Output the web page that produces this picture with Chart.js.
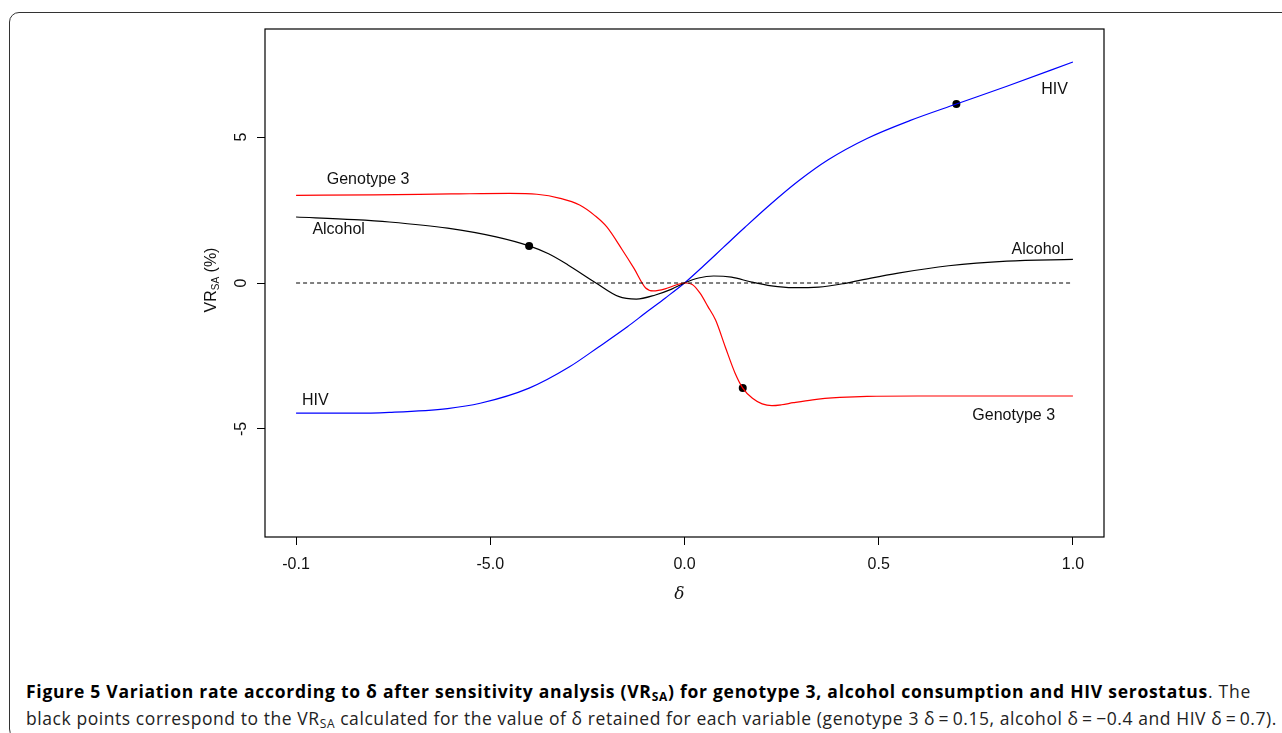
<!DOCTYPE html>
<html>
<head>
<meta charset="utf-8">
<title>Figure 5</title>
<script src="https://cdn.jsdelivr.net/npm/chart.js"></script>
<style>
  body { margin: 0; background: #fff; width: 1282px; height: 733px; overflow: hidden; position: relative; }
  #frame { position: absolute; left: 9px; top: 12px; width: 1300px; height: 725px; border: 1.5px solid #333; border-radius: 10px; }
  #chart { position: absolute; left: 0; top: 0; }
  .cap { position: absolute; left: 26px; font-family: 'Open Sans'; font-size: 17.5px; color: #222; white-space: nowrap; }
  .cap b { color: #000; }
  .cap sub { font-size: 12px; vertical-align: -3px; line-height: 0; }
</style>
</head>
<body>
<div id="frame"></div>
<canvas id="chart" width="1282" height="620"></canvas>
<div class="cap" id="cap1" style="top:679px"><b>Figure 5 Variation rate according to δ after sensitivity analysis (VR<sub>SA</sub>) for genotype 3, alcohol consumption and HIV serostatus</b>. The</div>
<div class="cap" id="cap2" style="top:706px">black points correspond to the VR<sub>SA</sub> calculated for the value of δ retained for each variable (genotype 3 δ&thinsp;=&thinsp;0.15, alcohol δ&thinsp;=&thinsp;−0.4 and HIV δ&thinsp;=&thinsp;0.7).</div>

<script>
  // 値は図から読み取り
  var genoX = [-1.0, -0.8, -0.6, -0.45, -0.38, -0.32, -0.27, -0.23, -0.2, -0.16, -0.13, -0.1, -0.08, -0.05, -0.02, 0, 0.02, 0.04, 0.06, 0.08, 0.105, 0.13, 0.15, 0.175, 0.2, 0.225, 0.25, 0.28, 0.33, 0.4, 0.47, 0.6, 0.8, 1.0];
  var genoY = [3.0, 3.02, 3.05, 3.07, 3.04, 2.9, 2.67, 2.3, 1.92, 1.13, 0.5, -0.17, -0.27, -0.2, -0.06, 0, -0.05, -0.35, -0.8, -1.27, -2.19, -3.08, -3.6, -3.95, -4.14, -4.2, -4.17, -4.1, -4.0, -3.92, -3.88, -3.87, -3.87, -3.87];

  var alcX = [-1.0, -0.85, -0.76, -0.61, -0.485, -0.4, -0.35, -0.3, -0.23, -0.17, -0.124, -0.075, -0.033, 0, 0.036, 0.075, 0.121, 0.173, 0.224, 0.28, 0.345, 0.41, 0.48, 0.55, 0.68, 0.83, 1.0];
  var alcY = [2.26, 2.17, 2.09, 1.88, 1.58, 1.27, 1.0, 0.62, 0.02, -0.46, -0.55, -0.41, -0.21, 0, 0.17, 0.24, 0.2, 0.03, -0.1, -0.16, -0.14, -0.02, 0.17, 0.34, 0.59, 0.75, 0.81];

  var hivX = [-1.0, -0.85, -0.76, -0.61, -0.526, -0.4, -0.296, -0.222, -0.147, -0.1, -0.05, 0, 0.05, 0.1, 0.155, 0.22, 0.294, 0.37, 0.47, 0.58, 0.7, 0.83, 1.0];
  var hivY = [-4.46, -4.46, -4.43, -4.3, -4.12, -3.6, -2.87, -2.2, -1.5, -1.02, -0.52, 0, 0.6, 1.22, 1.9, 2.68, 3.5, 4.22, 4.95, 5.56, 6.13, 6.74, 7.57];

  // 採用したδの点
  var pointX = [0.15, -0.4, 0.7];
  var pointY = [-3.6, 1.27, 6.13];

  var refX = [-1.0, 1.0];
  var refY = [0, 0];

  var xTicks = [-1.0, -0.5, 0.0, 0.5, 1.0];
  var xTickLabels = ['-0.1', '-5.0', '0.0', '0.5', '1.0'];
  var yTicks = [-5, 0, 5];
  var yTickLabels = ['-5', '0', '5'];

  // 曲線ラベル
  var labelText = ['Genotype 3', 'Alcohol', 'HIV', 'HIV', 'Alcohol', 'Genotype 3'];
  var labelX = [-0.921, -0.958, -0.985, 0.987, 0.977, 0.954];
  var labelY = [3.53, 1.82, -4.04, 6.61, 1.16, -4.55];
  var labelAlign = ['left', 'left', 'left', 'right', 'right', 'right'];

  function pts(xs, ys) {
    var out = [];
    for (var i = 0; i < xs.length; i++) out.push({ x: xs[i], y: ys[i] });
    return out;
  }

  var FONT = "'Liberation Sans', Arial, sans-serif";

  var textPlugin = {
    id: 'textPlugin',
    afterDraw: function(chart) {
      var ctx = chart.ctx;
      var xs = chart.scales.x, ys = chart.scales.y, a = chart.chartArea;
      ctx.save();
      // 枠
      ctx.strokeStyle = '#000';
      ctx.lineWidth = 1.2;
      ctx.strokeRect(a.left, a.top, a.right - a.left, a.bottom - a.top);

      ctx.fillStyle = '#111';
      ctx.font = '16px ' + FONT;
      ctx.textBaseline = 'middle';

      // 曲線ラベル
      for (var i = 0; i < labelText.length; i++) {
        ctx.textAlign = labelAlign[i];
        ctx.fillText(labelText[i], xs.getPixelForValue(labelX[i]), ys.getPixelForValue(labelY[i]));
      }

      // y目盛り（回転）
      for (var j = 0; j < yTicks.length; j++) {
        ctx.save();
        ctx.translate(a.left - 23, ys.getPixelForValue(yTicks[j]));
        ctx.rotate(-Math.PI / 2);
        ctx.textAlign = 'center';
        ctx.fillText(yTickLabels[j], 0, 0);
        ctx.restore();
      }

      // y軸タイトル VR_SA (%)
      ctx.save();
      ctx.translate(a.left - 55, (a.top + a.bottom) / 2 - 3);
      ctx.rotate(-Math.PI / 2);
      ctx.textAlign = 'left';
      ctx.textBaseline = 'alphabetic';
      ctx.font = '16px ' + FONT;
      var w1 = ctx.measureText('VR').width;
      var w3 = ctx.measureText(' (%)').width;
      ctx.font = '10px ' + FONT;
      var w2 = ctx.measureText('SA').width;
      var start = -(w1 + w2 + w3) / 2;
      ctx.font = '16px ' + FONT;
      ctx.fillText('VR', start, 6);
      ctx.font = '10px ' + FONT;
      ctx.fillText('SA', start + w1, 9);
      ctx.font = '16px ' + FONT;
      ctx.fillText(' (%)', start + w1 + w2, 6);
      ctx.restore();

      // x軸タイトル δ
      ctx.font = "italic 17px 'DejaVu Serif', serif";
      ctx.textAlign = 'center';
      ctx.textBaseline = 'middle';
      ctx.fillText('δ', xs.getPixelForValue(-0.013), a.bottom + 58);
      ctx.restore();
    }
  };

  var lineStyle = { pointRadius: 0, borderWidth: 1.2, cubicInterpolationMode: 'monotone', fill: false };

  new Chart(document.getElementById('chart'), {
    type: 'line',
    data: {
      datasets: [
        Object.assign({ label: 'ref', data: pts(refX, refY), borderColor: '#000', borderDash: [4, 3] }, lineStyle, { borderWidth: 1 }),
        Object.assign({ label: 'Genotype 3', data: pts(genoX, genoY), borderColor: '#ff0000' }, lineStyle),
        Object.assign({ label: 'Alcohol', data: pts(alcX, alcY), borderColor: '#000000' }, lineStyle),
        Object.assign({ label: 'HIV', data: pts(hivX, hivY), borderColor: '#0000ff' }, lineStyle),
        { label: 'points', data: pts(pointX, pointY), showLine: false, pointRadius: 4, pointBackgroundColor: '#000', pointBorderColor: '#000', borderWidth: 0 }
      ]
    },
    options: {
      responsive: false,
      animation: false,
      events: [],
      layout: { padding: { left: 0, top: 29, right: 178, bottom: 0 } },
      plugins: { legend: { display: false }, tooltip: { enabled: false } },
      scales: {
        x: {
          type: 'linear',
          min: -1.08,
          max: 1.08,
          afterBuildTicks: function(scale) { scale.ticks = xTicks.map(function(v) { return { value: v }; }); },
          afterFit: function(scale) { scale.height = 83; },
          ticks: {
            autoSkip: false,
            maxRotation: 0,
            padding: 10,
            color: '#111',
            font: { family: FONT, size: 16 },
            callback: function(v, i) { return xTickLabels[i]; }
          },
          grid: { drawOnChartArea: false, drawTicks: true, tickLength: 8, color: '#000', lineWidth: 1 },
          border: { display: false }
        },
        y: {
          type: 'linear',
          min: -8.7,
          max: 8.7,
          afterBuildTicks: function(scale) { scale.ticks = yTicks.map(function(v) { return { value: v }; }); },
          afterFit: function(scale) { scale.width = 265; },
          ticks: { display: false },
          grid: { drawOnChartArea: false, drawTicks: true, tickLength: 8, color: '#000', lineWidth: 1 },
          border: { display: false }
        }
      }
    },
    plugins: [textPlugin]
  });

  // キャプションの幅を合わせる
  function fitCaption(id, right) {
    var el = document.getElementById(id);
    var n = el.textContent.length;
    var w = el.getBoundingClientRect().width;
    el.style.letterSpacing = ((right - 26 - w) / n) + 'px';
  }
  fitCaption('cap1', 1251);
  fitCaption('cap2', 1277);
</script>
</body>
</html>
